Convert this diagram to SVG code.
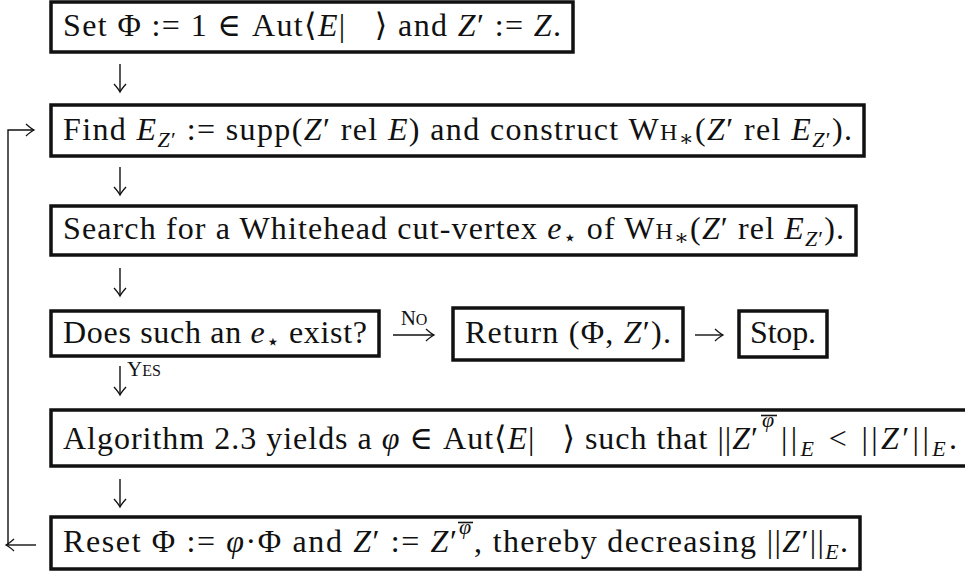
<svg xmlns="http://www.w3.org/2000/svg" width="965" height="574" viewBox="0 0 965 574">
<style>
.t{font-family:"Liberation Serif","DejaVu Serif",serif;font-size:32px;fill:#111;white-space:pre}
.i{font-style:italic}
.s{font-size:22px}
.sc{font-size:24px}
.lab{font-family:"Liberation Serif","DejaVu Serif",serif;font-size:21px;fill:#111}
.lab2{font-size:16px}
.box{fill:#fff;stroke:#111;stroke-width:3.5}
.ln{fill:none;stroke:#111;stroke-width:1.4}
.bar{stroke:#111;stroke-width:1.6}
</style>
<defs>
<marker id="ah" viewBox="-10 -7 12 14" refX="0" refY="0" markerWidth="12" markerHeight="14" orient="auto" markerUnits="userSpaceOnUse">
<path d="M-8,-6 Q-3,-1.5 0,0 Q-3,1.5 -8,6" fill="none" stroke="#111" stroke-width="1.3"/>
</marker>
</defs>
<rect width="965" height="574" fill="#fff"/>

<g id="connectors">
<path class="ln" d="M120,64 V92" marker-end="url(#ah)"/>
<path class="ln" d="M120,167 V195" marker-end="url(#ah)"/>
<path class="ln" d="M120,268 V296" marker-end="url(#ah)"/>
<path class="ln" d="M120,366 V395" marker-end="url(#ah)"/>
<path class="ln" d="M120,479 V507" marker-end="url(#ah)"/>
<path class="ln" d="M393,335 H434" marker-end="url(#ah)"/>
<path class="ln" d="M695,335 H723" marker-end="url(#ah)"/>
<path class="ln" d="M8,545 V130 H34" marker-end="url(#ah)"/>
<path class="ln" d="M36,545 H6" marker-end="url(#ah)"/>
<text class="lab" x="414" y="325" text-anchor="middle">N<tspan class="lab2">O</tspan></text>
<text class="lab" x="127" y="376">Y<tspan class="lab2">ES</tspan></text>
</g>

<g id="n1">
<rect class="box" x="51" y="2" width="522" height="50"/>
<text class="t" x="63" y="36" textLength="498" lengthAdjust="spacing">Set Φ := 1 ∈ Aut⟨<tspan class="i">E</tspan>|   ⟩ and <tspan class="i">Z</tspan>′ := <tspan class="i">Z</tspan>.</text>
</g>

<g id="n2">
<rect class="box" x="51" y="105" width="813" height="51"/>
<text class="t" x="63" y="140" textLength="789" lengthAdjust="spacing">Find <tspan class="i">E</tspan><tspan class="s" dy="7"><tspan class="i">Z</tspan>′</tspan><tspan dy="-7"> := supp(</tspan><tspan class="i">Z</tspan>′ rel <tspan class="i">E</tspan>) and construct W<tspan class="sc">H</tspan><tspan class="s" dy="6">∗</tspan><tspan dy="-6">(</tspan><tspan class="i">Z</tspan>′ rel <tspan class="i">E</tspan><tspan class="s" dy="7"><tspan class="i">Z</tspan>′</tspan><tspan dy="-7">).</tspan></text>
</g>

<g id="n3">
<rect class="box" x="51" y="206" width="805" height="49"/>
<text class="t" x="63" y="239" textLength="781" lengthAdjust="spacing">Search for a Whitehead cut-vertex <tspan class="i">e</tspan><tspan class="s" dy="6">⋆</tspan><tspan dy="-6"> of W</tspan><tspan class="sc">H</tspan><tspan class="s" dy="6">∗</tspan><tspan dy="-6">(</tspan><tspan class="i">Z</tspan>′ rel <tspan class="i">E</tspan><tspan class="s" dy="7"><tspan class="i">Z</tspan>′</tspan><tspan dy="-7">).</tspan></text>
</g>

<g id="n4">
<rect class="box" x="51" y="311" width="328" height="45"/>
<text class="t" x="63" y="343" textLength="304" lengthAdjust="spacing">Does such an <tspan class="i">e</tspan><tspan class="s" dy="6">⋆</tspan><tspan dy="-6"> exist?</tspan></text>
</g>

<g id="n5">
<rect class="box" x="453" y="308" width="230" height="52"/>
<text class="t" x="465" y="343" textLength="206" lengthAdjust="spacing">Return (Φ, <tspan class="i">Z</tspan>′).</text>
</g>

<g id="n6">
<rect class="box" x="739" y="311" width="88" height="46"/>
<text class="t" x="750" y="343" textLength="66" lengthAdjust="spacing">Stop.</text>
</g>

<g id="n7">
<rect class="box" x="51" y="410" width="930" height="56"/>
<text class="t" x="63" y="449" textLength="695" lengthAdjust="spacing">Algorithm 2.3 yields a <tspan class="i">φ</tspan> ∈ Aut⟨<tspan class="i">E</tspan>|   ⟩ such that ||<tspan class="i">Z</tspan>′</text>
<text class="t s i" x="762" y="427">φ</text>
<line class="bar" x1="761" y1="415.5" x2="777" y2="415.5"/>
<text class="t" x="781" y="449" textLength="176" lengthAdjust="spacing">||<tspan class="s i" dy="7">E</tspan><tspan dy="-7"> &lt; ||</tspan><tspan class="i">Z</tspan>′||<tspan class="s i" dy="7">E</tspan><tspan dy="-7">.</tspan></text>
</g>

<g id="n8">
<rect class="box" x="51" y="517" width="809" height="52"/>
<text class="t" x="63" y="552" textLength="394" lengthAdjust="spacing">Reset Φ := <tspan class="i">φ</tspan>·Φ and <tspan class="i">Z</tspan>′ := <tspan class="i">Z</tspan>′</text>
<text class="t s i" x="459" y="534">φ</text>
<line class="bar" x1="458" y1="522.5" x2="473" y2="522.5"/>
<text class="t" x="474" y="552" textLength="374" lengthAdjust="spacing">, thereby decreasing ||<tspan class="i">Z</tspan>′||<tspan class="s i" dy="7">E</tspan><tspan dy="-7">.</tspan></text>
</g>
</svg>
